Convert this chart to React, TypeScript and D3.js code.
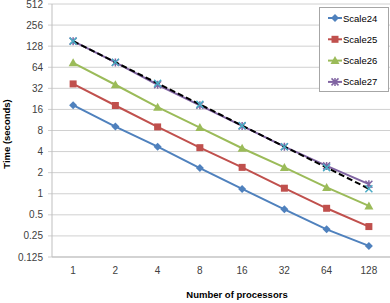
import React, { useEffect, useRef } from 'react';
import * as d3 from 'd3';

// processor counts along the x axis
const processors = ['1', '2', '4', '8', '16', '32', '64', '128'];
// y axis ticks (log base 2)
const yTicks = [0.125, 0.25, 0.5, 1, 2, 4, 8, 16, 32, 64, 128, 256, 512];
const yTickLabels = ['0.125', '0.25', '0.5', '1', '2', '4', '8', '16', '32', '64', '128', '256', '512'];

// measured times (seconds)
const scale24 = [18.4, 9.1, 4.7, 2.33, 1.17, 0.6, 0.31, 0.18];
const scale25 = [37, 18.2, 9.0, 4.55, 2.38, 1.2, 0.62, 0.34];
const scale26 = [74, 36, 17.2, 8.8, 4.46, 2.38, 1.23, 0.67];
const scale27 = [151, 75, 36, 18.3, 9.3, 4.7, 2.5, 1.37];
// ideal scaling for Scale27 (dashed)
const ideal27 = [151, 75.5, 37.7, 18.9, 9.4, 4.7, 2.36, 1.18];

const seriesNames = ['Scale24', 'Scale25', 'Scale26', 'Scale27'];
const seriesColors = ['#4F81BD', '#C0504D', '#9BBB59', '#8064A2'];
const markerKinds = ['diamond', 'square', 'triangle', 'star'];

const W = 390;
const H = 303;

function drawMarker(g: any, kind: string, color: string, x: number, y: number) {
  if (kind === 'diamond') {
    g.append('path').attr('d', 'M0,-4L4,0L0,4L-4,0Z')
      .attr('transform', `translate(${x},${y})`).attr('fill', color);
  } else if (kind === 'square') {
    g.append('rect').attr('x', x - 3.5).attr('y', y - 3.5)
      .attr('width', 7).attr('height', 7).attr('fill', color);
  } else if (kind === 'triangle') {
    g.append('path').attr('d', 'M0,-4.5L4.5,3.5L-4.5,3.5Z')
      .attr('transform', `translate(${x},${y})`).attr('fill', color);
  } else if (kind === 'star') {
    g.append('path').attr('d', 'M-3.5,-3.5L3.5,3.5M-3.5,3.5L3.5,-3.5M0,-4L0,4')
      .attr('transform', `translate(${x},${y})`)
      .attr('stroke', color).attr('stroke-width', 1.5).attr('fill', 'none');
  } else if (kind === 'x') {
    g.append('path').attr('d', 'M-3.5,-3.5L3.5,3.5M-3.5,3.5L3.5,-3.5')
      .attr('transform', `translate(${x},${y})`)
      .attr('stroke', color).attr('stroke-width', 1.5).attr('fill', 'none');
  }
}

export default function App() {
  const ref = useRef<SVGSVGElement>(null);

  useEffect(() => {
    const svg = d3.select(ref.current);
    svg.selectAll('*').remove();

    const left = 52, right = 390, top = 4, bottom = 257;
    const font = '"Liberation Sans", Arial, sans-serif';

    const x = d3.scalePoint<string>().domain(processors).range([left, right]).padding(0.5);
    const y = d3.scaleLog().base(2).domain([0.125, 512]).range([bottom, top]);

    // grid lines
    svg.append('g').selectAll('line').data(yTicks).enter().append('line')
      .attr('x1', left - 4).attr('x2', right)
      .attr('y1', (d: number) => y(d)).attr('y2', (d: number) => y(d))
      .attr('stroke', '#D0D0D0').attr('stroke-width', 1);

    // axis lines
    svg.append('line').attr('x1', left).attr('x2', left).attr('y1', top).attr('y2', bottom)
      .attr('stroke', '#BFBFBF');
    svg.append('line').attr('x1', left).attr('x2', right).attr('y1', bottom).attr('y2', bottom)
      .attr('stroke', '#BFBFBF');

    // y tick labels
    svg.append('g').selectAll('text').data(yTicks).enter().append('text')
      .attr('x', 43).attr('y', (d: number) => y(d) + 3.5)
      .attr('text-anchor', 'end').attr('font-family', font).attr('font-size', 10)
      .attr('fill', '#404040')
      .text((d: number, i: number) => yTickLabels[i]);

    // x tick labels
    svg.append('g').selectAll('text').data(processors).enter().append('text')
      .attr('x', (d: string) => x(d) as number).attr('y', 274)
      .attr('text-anchor', 'middle').attr('font-family', font).attr('font-size', 10)
      .attr('fill', '#404040')
      .text((d: string) => d);

    // axis titles
    svg.append('text').attr('x', 237).attr('y', 298).attr('text-anchor', 'middle')
      .attr('font-family', font).attr('font-size', 9.5).attr('font-weight', 'bold')
      .attr('fill', '#000').text('Number of processors');
    svg.append('text').attr('transform', 'translate(10,134) rotate(-90)').attr('text-anchor', 'middle')
      .attr('font-family', font).attr('font-size', 9.5).attr('font-weight', 'bold')
      .attr('fill', '#000').text('Time (seconds)');

    const line = d3.line<number>()
      .x((d: number, i: number) => x(processors[i]) as number)
      .y((d: number) => y(d));

    const allSeries = [scale24, scale25, scale26, scale27];
    allSeries.forEach((vals, s) => {
      const g = svg.append('g');
      g.append('path').datum(vals).attr('d', line as any)
        .attr('fill', 'none').attr('stroke', seriesColors[s]).attr('stroke-width', 2);
      vals.forEach((v, i) => drawMarker(g, markerKinds[s], seriesColors[s], x(processors[i]) as number, y(v)));
    });

    // ideal line, black dashed with aqua x markers
    const gi = svg.append('g');
    gi.append('path').datum(ideal27).attr('d', line as any)
      .attr('fill', 'none').attr('stroke', '#000').attr('stroke-width', 2)
      .attr('stroke-dasharray', '6,3');
    ideal27.forEach((v, i) => drawMarker(gi, 'x', '#4BACC6', x(processors[i]) as number, y(v)));

    // legend
    const lg = svg.append('g');
    lg.append('rect').attr('x', 319.5).attr('y', 7.5).attr('width', 69).attr('height', 84)
      .attr('fill', '#fff').attr('stroke', '#A6A6A6');
    seriesNames.forEach((name, s) => {
      const ly = 18 + s * 21.3;
      lg.append('line').attr('x1', 328).attr('x2', 342).attr('y1', ly).attr('y2', ly)
        .attr('stroke', seriesColors[s]).attr('stroke-width', 2);
      drawMarker(lg, markerKinds[s], seriesColors[s], 335, ly);
      lg.append('text').attr('x', 343).attr('y', ly + 3.5)
        .attr('font-family', font).attr('font-size', 9.5).attr('fill', '#000').text(name);
    });
  }, []);

  return (
    <svg ref={ref} width={W} height={H}
      style={{ position: 'absolute', left: 0, top: 0, background: '#fff' }} />
  );
}
